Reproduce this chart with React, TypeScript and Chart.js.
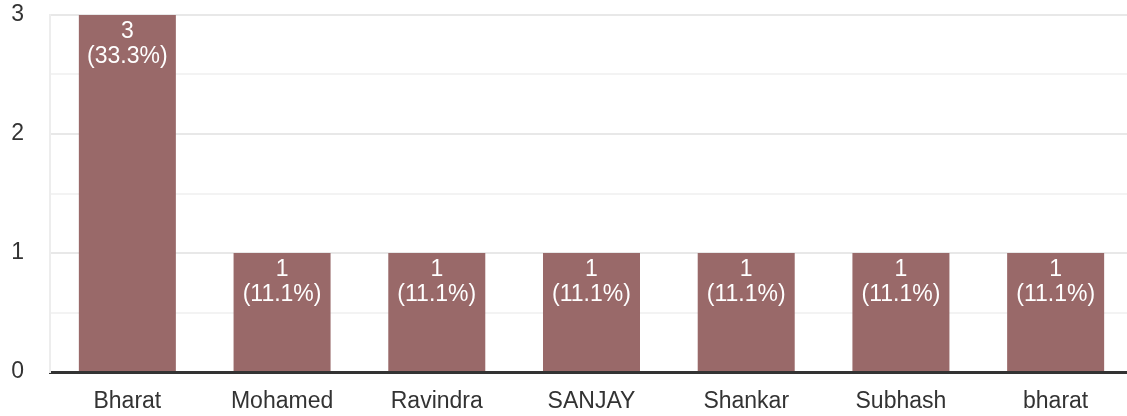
import React, { useEffect, useRef } from "react";
import { Chart, registerables } from "chart.js";

Chart.register(...registerables);

const categories = ["Bharat", "Mohamed", "Ravindra", "SANJAY", "Shankar", "Subhash", "bharat"];
const counts = [3, 1, 1, 1, 1, 1, 1];
const percentLabels = ["33.3%", "11.1%", "11.1%", "11.1%", "11.1%", "11.1%", "11.1%"];
const yTicks = [0, 1, 2, 3];

const FONT = "'Liberation Sans', Arial, sans-serif";

const barLabelPlugin = {
  id: "barLabels",
  afterDatasetsDraw(chart: any) {
    const ctx = chart.ctx;
    const meta = chart.getDatasetMeta(0);
    ctx.save();
    ctx.fillStyle = "#ffffff";
    ctx.font = `23px ${FONT}`;
    ctx.textAlign = "center";
    ctx.textBaseline = "middle";
    meta.data.forEach((bar: any, i: number) => {
      ctx.fillText(String(counts[i]), bar.x, bar.y + 17);
      ctx.fillText(`(${percentLabels[i]})`, bar.x, bar.y + 42);
    });
    ctx.restore();
  },
};

export default function App() {
  const ref = useRef<HTMLCanvasElement>(null);
  useEffect(() => {
    if (!ref.current) return;
    const chart = new Chart(ref.current, {
      type: "bar",
      data: {
        labels: categories,
        datasets: [
          {
            data: counts,
            backgroundColor: "#996969",
            barPercentage: 0.627,
            categoryPercentage: 1,
          },
        ],
      },
      options: {
        animation: false,
        responsive: false,
        maintainAspectRatio: false,
        layout: { padding: { top: 15, left: 0, right: 0, bottom: 0 } },
        plugins: { legend: { display: false }, tooltip: { enabled: false } },
        scales: {
          x: {
            grid: { display: false, drawTicks: false },
            border: { display: true, color: "#333333", width: 3 },
            ticks: { color: "#333333", font: { size: 23, family: FONT }, padding: 16, maxRotation: 0 },
            afterFit: (s: any) => {
              s.height = 44;
              s.paddingLeft = 0;
              s.paddingRight = 0;
            },
          },
          y: {
            min: 0,
            max: 3,
            grid: {
              drawTicks: false,
              lineWidth: 2,
              color: (c: any) => {
                const v = c.tick ? c.tick.value : 0;
                if (v === 0) return "rgba(0,0,0,0)";
                return Number.isInteger(v) ? "#e8e8e8" : "#f3f3f3";
              },
            },
            border: { display: true, color: "#ededed", width: 2 },
            ticks: {
              stepSize: 0.5,
              color: "#333333",
              font: { size: 23, family: FONT },
              padding: 26,
              callback: (v: any) => (yTicks.includes(Number(v)) ? String(v) : ""),
            },
            afterFit: (s: any) => {
              s.width = 50;
              s.paddingTop = 0;
              s.paddingBottom = 0;
            },
          },
        },
      },
      plugins: [barLabelPlugin],
    });
    return () => chart.destroy();
  }, []);
  return (
    <div style={{ position: "fixed", left: 0, top: 0, width: 1127, height: 416, overflow: "hidden", background: "#fff" }}>
      <canvas ref={ref} width={1133} height={416} style={{ display: "block", width: 1133, height: 416 }} />
    </div>
  );
}
